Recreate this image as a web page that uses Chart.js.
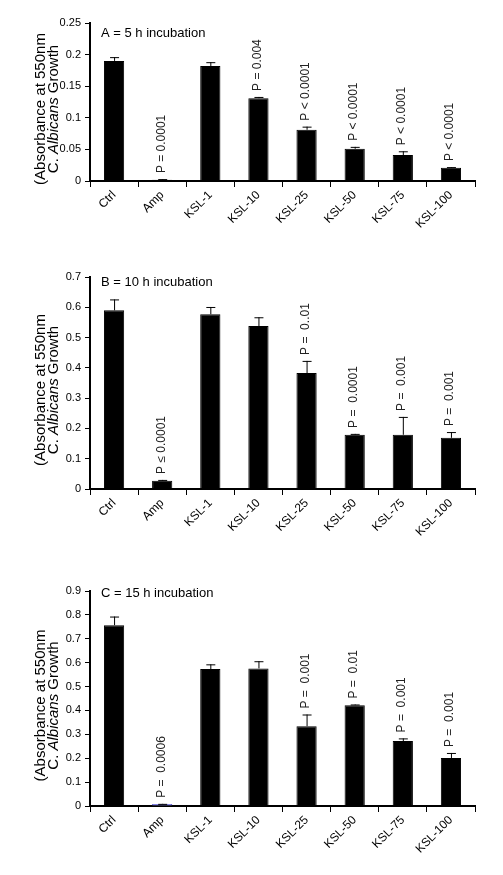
<!DOCTYPE html>
<html>
<head>
<meta charset="utf-8">
<script src="https://cdn.jsdelivr.net/npm/chart.js@4.4.0/dist/chart.umd.min.js"></script>
<style>
  body { margin: 0; background: #fff; width: 503px; height: 875px; position: relative; overflow: hidden; }
  .panel { position: absolute; left: 0; width: 503px; }
</style>
</head>
<body>
<div class="panel" style="top:0px"><canvas id="chartA" width="503" height="235"></canvas></div>
<div class="panel" style="top:260px"><canvas id="chartB" width="503" height="283"></canvas></div>
<div class="panel" style="top:570px"><canvas id="chartC" width="503" height="290"></canvas></div>
<script>
var groups = ['Ctrl', 'Amp', 'KSL-1', 'KSL-10', 'KSL-25', 'KSL-50', 'KSL-75', 'KSL-100'];

// A = 5 h
var growthA = [0.190, 0.002, 0.182, 0.131, 0.081, 0.051, 0.041, 0.021];
var errA    = [0.006, 0.001, 0.006, 0.002, 0.005, 0.003, 0.006, 0.001];
var pA      = ['', 'P = 0.0001', '', 'P = 0.004', 'P < 0.0001', 'P < 0.0001', 'P < 0.0001', 'P < 0.0001'];
var ticksA  = [0, 0.25, 0.05];

// B = 10 h
var growthB = [0.590, 0.027, 0.577, 0.538, 0.383, 0.179, 0.179, 0.169];
var errB    = [0.036, 0.003, 0.024, 0.029, 0.040, 0.003, 0.059, 0.019];
var pB      = ['', 'P \u2264 0.0001', '', '', 'P =  0..01', 'P =  0.0001', 'P =  0.001', 'P =  0.001'];
var ticksB  = [0, 0.7, 0.1];

// C = 15 h
var growthC = [0.757, 0.008, 0.573, 0.576, 0.334, 0.422, 0.272, 0.201];
var errC    = [0.036, 0.001, 0.020, 0.030, 0.049, 0.003, 0.011, 0.021];
var pC      = ['', 'P =  0.0006', '', '', 'P =  0.001', 'P =  0.01', 'P =  0.001', 'P =  0.001'];
var ticksC  = [0, 0.9, 0.1];

var FONT = '"Liberation Sans", Arial, sans-serif';

// upper error bars + rotated p values
var errorBars = {
  id: 'errorBars',
  afterDatasetsDraw: function (chart, args, opts) {
    var ctx = chart.ctx;
    var meta = chart.getDatasetMeta(0);
    var y = chart.scales.y;
    ctx.save();
    meta.data.forEach(function (bar, i) {
      var v = chart.data.datasets[0].data[i];
      var top = y.getPixelForValue(v + opts.err[i]);
      ctx.strokeStyle = '#000';
      ctx.lineWidth = 1;
      ctx.beginPath();
      ctx.moveTo(bar.x + 0.5, bar.y);
      ctx.lineTo(bar.x + 0.5, top);
      ctx.moveTo(bar.x - 4, top + 0.5);
      ctx.lineTo(bar.x + 5, top + 0.5);
      ctx.stroke();
      if (opts.p[i]) {
        ctx.save();
        ctx.translate(bar.x - 1, top - 6);
        ctx.rotate(-Math.PI / 2);
        ctx.font = '12px ' + FONT;
        ctx.fillStyle = '#222';
        ctx.textAlign = 'left';
        ctx.textBaseline = 'middle';
        ctx.fillText(opts.p[i], 0, 0);
        ctx.restore();
      }
    });
    ctx.restore();
  }
};

// two line y title with italic species name, plus panel label
var panelText = {
  id: 'panelText',
  afterDraw: function (chart, args, opts) {
    var ctx = chart.ctx, a = chart.chartArea;
    var cy = (a.top + a.bottom) / 2 + 7;
    ctx.save();
    ctx.fillStyle = '#000';
    ctx.textBaseline = 'alphabetic';

    ctx.save();
    ctx.translate(45, cy);
    ctx.rotate(-Math.PI / 2);
    ctx.font = '15px ' + FONT;
    ctx.textAlign = 'center';
    ctx.fillText('(Absorbance at 550nm', 0, 0);
    ctx.restore();

    var parts = [['C. ', ''], ['Albicans', 'italic '], [' Growth', '']];
    var total = 0;
    parts.forEach(function (p) { ctx.font = p[1] + '15px ' + FONT; total += ctx.measureText(p[0]).width; });
    ctx.save();
    ctx.translate(58, cy);
    ctx.rotate(-Math.PI / 2);
    ctx.textAlign = 'left';
    var x = -total / 2;
    parts.forEach(function (p) {
      ctx.font = p[1] + '15px ' + FONT;
      ctx.fillText(p[0], x, 0);
      x += ctx.measureText(p[0]).width;
    });
    ctx.restore();

    ctx.font = '13px ' + FONT;
    ctx.textAlign = 'left';
    ctx.textBaseline = 'middle';
    ctx.fillText(opts.label, a.left + 11, a.top + opts.off);
    ctx.restore();
  }
};

function makePanel(id, values, errs, pvals, ticks, label, off, padTop, colors) {
  return new Chart(document.getElementById(id), {
    type: 'bar',
    data: {
      labels: groups,
      datasets: [{
        data: values,
        backgroundColor: colors,
        borderColor: colors.map(function (c) { return c === '#000' ? '#000' : '#5a5ad0'; }),
        borderWidth: 1,
        borderSkipped: 'bottom',
        categoryPercentage: 1,
        barPercentage: 0.42
      }]
    },
    options: {
      responsive: false,
      animation: false,
      layout: { padding: { top: padTop, right: 28, left: 0, bottom: 0 } },
      plugins: {
        legend: { display: false },
        tooltip: { enabled: false },
        errorBars: { err: errs, p: pvals },
        panelText: { label: label, off: off }
      },
      scales: {
        x: {
          grid: { display: true, drawOnChartArea: false, drawTicks: true, tickLength: 6, color: '#000', lineWidth: 1, offset: true },
          border: { display: true, color: '#000', width: 2 },
          ticks: { color: '#000', font: { family: FONT, size: 12 }, minRotation: 45, maxRotation: 45, padding: 1 },
          afterFit: function (s) { s.height = 54; }
        },
        y: {
          min: ticks[0], max: ticks[1],
          grid: { display: true, drawOnChartArea: false, drawTicks: true, tickLength: 5, color: '#000', lineWidth: 1 },
          border: { display: true, color: '#000', width: 2 },
          ticks: {
            stepSize: ticks[2], color: '#000', padding: 4,
            font: { family: FONT, size: 11 },
            callback: function (v) { return String(+v.toFixed(2)); }
          },
          afterFit: function (s) { s.width = 90; }
        }
      }
    },
    plugins: [errorBars, panelText]
  });
}

var black = groups.map(function () { return '#000'; });
var colorsC = black.slice(); colorsC[1] = '#9999ff';

makePanel('chartA', growthA, errA, pA, ticksA, 'A = 5 h incubation', 10, 23, black);
makePanel('chartB', growthB, errB, pB, ticksB, 'B = 10 h incubation', 5, 17, black);
makePanel('chartC', growthC, errC, pC, ticksC, 'C = 15 h incubation', 2, 21, colorsC);
</script>
</body>
</html>
